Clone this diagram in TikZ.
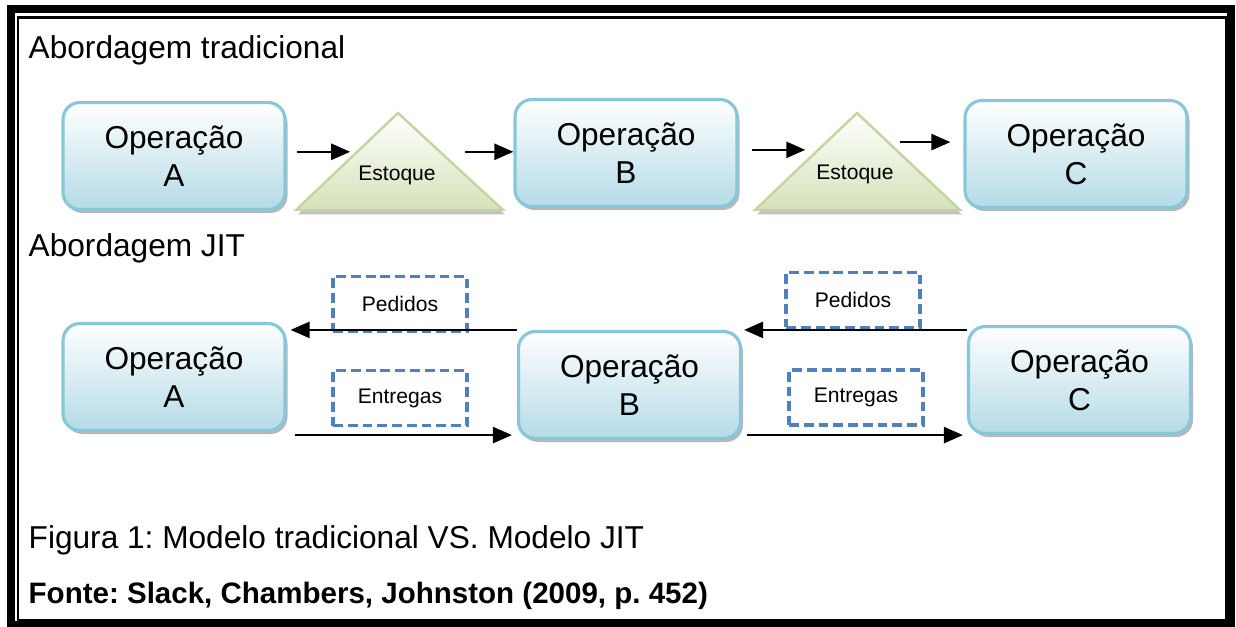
\documentclass[tikz,border=0pt]{standalone}
\usepackage{fontspec}
\setmainfont{Liberation Sans}
\frenchspacing
\usetikzlibrary{arrows.meta, positioning, calc, shadows}
\definecolor{opborder}{RGB}{135,199,217}
\definecolor{opfill}{RGB}{180,219,230}
\definecolor{stockborder}{RGB}{196,214,160}
\definecolor{stockfill}{RGB}{212,226,184}
\definecolor{flowblue}{RGB}{79,129,189}

\begin{document}
\begin{tikzpicture}[
    op/.style={draw=opborder, line width=0.9pt, rounded corners=0.17cm, top color=white, bottom color=opfill,
        minimum width=2.22cm, minimum height=1.07cm, align=center, font=\fontsize{9}{10.8}\selectfont,
        drop shadow={shadow xshift=0.25mm, shadow yshift=-0.35mm, fill=gray!80, opacity=0.7}},
    stock/.style={draw=stockborder, line width=0.7pt, top color=white, bottom color=stockfill,
        drop shadow={shadow xshift=0.2mm, shadow yshift=-0.45mm, fill=gray!80, opacity=0.6}},
    stocklabel/.style={inner sep=1pt, font=\fontsize{6}{7}\selectfont},
    flow/.style={draw=flowblue, line width=0.9pt, dash pattern=on 2.8pt off 1.4pt,
        minimum width=1.34cm, minimum height=0.55cm, font=\fontsize{6}{7}\selectfont},
    arr/.style={-{Triangle[length=1.9mm,width=1.6mm]}, line width=0.7pt},
    heading/.style={anchor=base west, inner sep=0pt, font=\fontsize{9}{11}\selectfont}
]
    \useasboundingbox (0,0) rectangle (12.36,-6.27);

    % Frame
    \draw[line width=0.08cm] (0.11,-0.09) rectangle (12.31,-6.245);
    \draw[line width=0.6pt] (0.18,-0.175) rectangle (12.26,-6.20);

    % Abordagem tradicional
    \node[heading] (titTrad) at (0.28,-0.585) {Abordagem tradicional};
    \node[op] (opA1) at (1.74,-1.56) {Operação\\A};
    \node[op] (opB1) at (6.26,-1.53) {Operação\\B};
    \node[op] (opC1) at (10.76,-1.54) {Operação\\C};

    % Estoque triangles
    \coordinate (t1a) at (3.98,-1.13);
    \coordinate (t1l) at (2.96,-2.10);
    \coordinate (t1r) at (5.03,-2.10);
    \draw[stock] (t1a) -- (t1r) -- (t1l) -- cycle;
    \node[stocklabel] (est1) at (3.97,-1.75) {Estoque};

    \coordinate (t2a) at (8.57,-1.13);
    \coordinate (t2l) at (7.55,-2.10);
    \coordinate (t2r) at (9.60,-2.10);
    \draw[stock] (t2a) -- (t2r) -- (t2l) -- cycle;
    \node[stocklabel] (est2) at (8.55,-1.74) {Estoque};

    % Arrows between operations and stocks
    \coordinate (t1lm) at ($(t1l)!0.6!(t1a)$);
    \coordinate (t1rm) at ($(t1r)!0.6!(t1a)$);
    \coordinate (t2lm) at ($(t2l)!0.62!(t2a)$);
    \coordinate (t2rm) at ($(t2r)!0.7!(t2a)$);
    \draw[arr, shorten <=0.1cm, shorten >=0.07cm] (opA1.east |- t1lm) -- (t1lm);
    \draw[arr, shorten <=0.25cm] (t1rm) -- (t1rm -| opB1.west);
    \draw[arr, shorten <=0.13cm, shorten >=0.13cm] (opB1.east |- t2lm) -- (t2lm);
    \draw[arr, shorten <=0.12cm, shorten >=0.13cm] (t2rm) -- (t2rm -| opC1.west);

    % Abordagem JIT
    \node[heading] (titJIT) at (0.28,-2.57) {Abordagem JIT};
    \node[op] (opA2) at (1.74,-3.77) {Operação\\A};
    \node[op] (opB2) at (6.295,-3.85) {Operação\\B};
    \node[op] (opC2) at (10.795,-3.80) {Operação\\C};

    \node[flow] (ped1) at (4.00,-3.04) {Pedidos};
    \node[flow] (ent1) at (4.00,-3.98) {Entregas};
    \node[flow] (ped2) at (8.53,-3.00) {Pedidos};
    \node[flow] (ent2) at (8.56,-3.975) {Entregas};

    % Pedidos go back, entregas go forward
    \coordinate (entA) at ([yshift=-0.03cm]opA2.south east);
    \draw[arr, shorten >=0.04cm] (opB2.north west) -- (opB2.north west -| opA2.east);
    \draw[arr, shorten >=0.02cm] (opC2.west |- opB2.north) -- (opB2.north east);
    \draw[arr, shorten <=0.08cm, shorten >=0.05cm] (entA) -- (entA -| opB2.west);
    \draw[arr, shorten <=0.05cm, shorten >=0.04cm] (opB2.east |- entA) -- (opC2.west |- entA);

    % Caption
    \node[heading] (caption) at (0.28,-5.48) {Figura 1: Modelo tradicional VS. Modelo JIT};
    \node[heading, font=\fontsize{8.4}{10}\selectfont\bfseries] (source) at (0.28,-6.03) {Fonte: Slack, Chambers, Johnston (2009, p. 452)};
\end{tikzpicture}
\end{document}
